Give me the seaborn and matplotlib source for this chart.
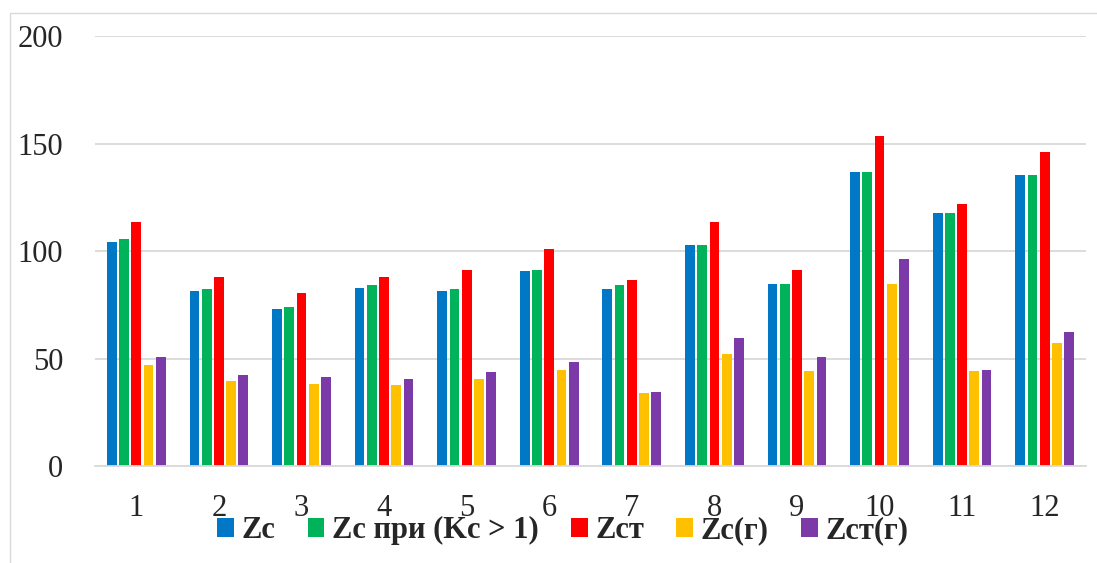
import matplotlib
matplotlib.use("Agg")
import matplotlib.pyplot as plt
import seaborn as sns
import pandas as pd
from matplotlib.patches import Rectangle

categories = ["1", "2", "3", "4", "5", "6", "7", "8", "9", "10", "11", "12"]
series_names = ["Zc", "Zc при (Kc > 1)", "Zст", "Zc(г)", "Zст(г)"]

zc = [104.3, 81.2, 72.9, 82.9, 81.2, 90.5, 82.3, 102.6, 84.8, 136.6, 117.5, 135.3]
zc_kc = [105.6, 82.3, 74.0, 84.2, 82.3, 91.2, 84.2, 102.6, 84.8, 136.6, 117.5, 135.3]
zst = [113.3, 87.7, 80.6, 87.7, 91.3, 100.8, 86.5, 113.3, 91.3, 153.3, 121.7, 146.2]
zc_g = [47.1, 39.4, 38.1, 37.5, 40.6, 44.8, 34.0, 52.0, 44.2, 84.8, 44.2, 57.2]
zst_g = [50.7, 42.3, 41.2, 40.6, 43.6, 48.4, 34.6, 59.7, 50.7, 96.1, 44.8, 62.2]

colors = ["#0078C6", "#00B35A", "#FF0000", "#FFC000", "#7B3AA8"]

series_values = [zc, zc_kc, zst, zc_g, zst_g]
df = pd.DataFrame(
    [(cat, name, v)
     for name, vals in zip(series_names, series_values)
     for cat, v in zip(categories, vals)],
    columns=["category", "series", "value"],
)

sns.set_style("white")
plt.rcParams["font.family"] = ["Liberation Serif", "DejaVu Serif"]

fig = plt.figure(figsize=(10.97, 5.63), dpi=100)
ax = fig.add_axes([0.0866, 0.1723, 0.9034, 0.7637])

sns.barplot(
    data=df, x="category", y="value", hue="series",
    order=categories, hue_order=series_names, palette=colors,
    width=0.74, gap=0.2, saturation=1, errorbar=None, ax=ax,
    edgecolor="none", linewidth=0,
)

ax.set_ylim(0, 200)
ax.set_yticks([0, 50, 100, 150, 200])
ax.set_xlim(-0.5, len(categories) - 0.5)
ax.set_xlabel("")
ax.set_ylabel("")
ax.yaxis.grid(True, color="#D9D9D9", linewidth=1.3)
ax.set_axisbelow(True)
for side in ["left", "right", "top"]:
    ax.spines[side].set_visible(False)
ax.spines["bottom"].set_color("#D9D9D9")
ax.spines["bottom"].set_linewidth(1.3)
ax.tick_params(axis="x", length=0, pad=20, labelsize=22)
ax.tick_params(axis="y", length=0, pad=23, labelsize=22)

ax.get_legend().remove()
handles, labels = ax.get_legend_handles_labels()
fig.legend(
    handles, labels, loc="center", bbox_to_anchor=(0.513, 0.057),
    ncol=5, frameon=False, handlelength=0.55, handleheight=0.6,
    handletextpad=0.25, columnspacing=1.05, borderpad=0,
    prop={"family": "Liberation Serif", "weight": "bold", "size": 22},
)

# thin outer frame along the top and left edges
fig.patches.append(Rectangle(
    (10 / 1097, -0.05), 1.1, 1.05 - 13 / 563,
    transform=fig.transFigure, fill=False, edgecolor="#D9D9D9",
    linewidth=1.0, zorder=0,
))

fig.savefig("out.png", dpi=100)
